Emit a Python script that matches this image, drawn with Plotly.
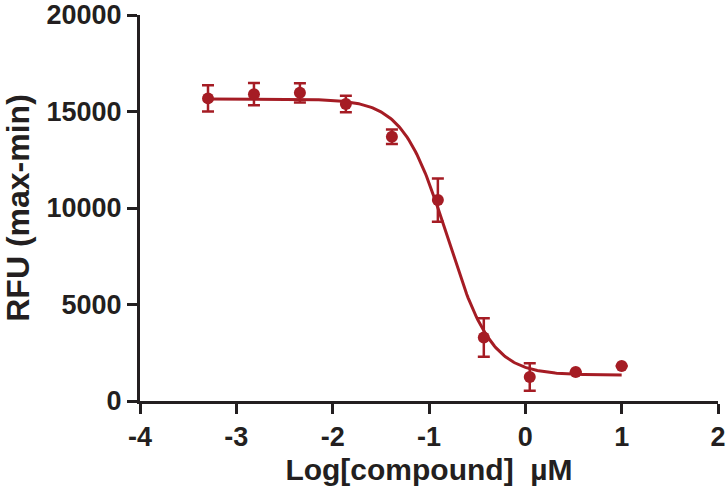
import numpy as np
import plotly.graph_objects as go

# Data (log10 concentration in uM)
log_conc = [-3.294, -2.817, -2.340, -1.863, -1.385, -0.908, -0.431, 0.046, 0.523, 1.000]
rfu_mean = [15680, 15900, 15970, 15385, 13690, 10410, 3290, 1245, 1500, 1810]
rfu_err = [675, 580, 500, 430, 380, 1120, 1000, 710, 0, 0]

# Four-parameter logistic fit parameters
fit_top = 15650
fit_bottom = 1340
fit_logic50 = -0.81
fit_hill = 1.9

x_tickvals = [-4, -3, -2, -1, 0, 1, 2]
x_ticktext = ["-4", "-3", "-2", "-1", "0", "1", "2"]
y_tickvals = [0, 5000, 10000, 15000, 20000]
y_ticktext = ["0", "5000", "10000", "15000", "20000"]

RED = "#A51C24"
AXIS = "#231F20"
FONT = "Liberation Sans, Arial, Helvetica, sans-serif"

xf = np.linspace(min(log_conc), max(log_conc), 300)
yf = fit_bottom + (fit_top - fit_bottom) / (1 + 10 ** ((xf - fit_logic50) * fit_hill))

fig = go.Figure()
fig.add_trace(go.Scatter(x=xf, y=yf, mode="lines",
                         line=dict(color=RED, width=3), hoverinfo="skip",
                         showlegend=False))
fig.add_trace(go.Scatter(x=log_conc, y=rfu_mean, mode="markers",
                         marker=dict(color=RED, size=12),
                         error_y=dict(type="data", array=rfu_err, visible=True,
                                      color=RED, thickness=2.5, width=6),
                         showlegend=False))

fig.update_layout(
    width=727, height=499,
    margin=dict(l=140, r=9, t=15, b=98),
    paper_bgcolor="white", plot_bgcolor="white",
    font=dict(family=FONT, color=AXIS),
    xaxis=dict(range=[-4, 2], tickvals=x_tickvals, ticktext=x_ticktext,
               automargin=False,
               showline=True, linewidth=3, linecolor=AXIS,
               ticks="outside", ticklen=10, tickwidth=3, tickcolor=AXIS,
               showgrid=False, zeroline=False,
               tickfont=dict(size=27, weight="bold", color=AXIS),
               title=dict(text="Log[compound]  µM",
                          font=dict(size=30, weight="bold", color=AXIS),
                          standoff=8)),
    yaxis=dict(range=[0, 20000], tickvals=y_tickvals, ticktext=y_ticktext,
               automargin=False,
               showline=True, linewidth=3, linecolor=AXIS,
               ticks="outside", ticklen=10, tickwidth=3, tickcolor=AXIS,
               showgrid=False, zeroline=False,
               tickfont=dict(size=27, weight="bold", color=AXIS),
               title=dict(text="RFU (max-min)",
                          font=dict(size=32, weight="bold", color=AXIS),
                          standoff=8)),
)

fig.write_html("out.html",
               config={"displayModeBar": False},
               post_script="document.body.style.margin='0';"
                           "document.body.style.overflow='hidden';")
